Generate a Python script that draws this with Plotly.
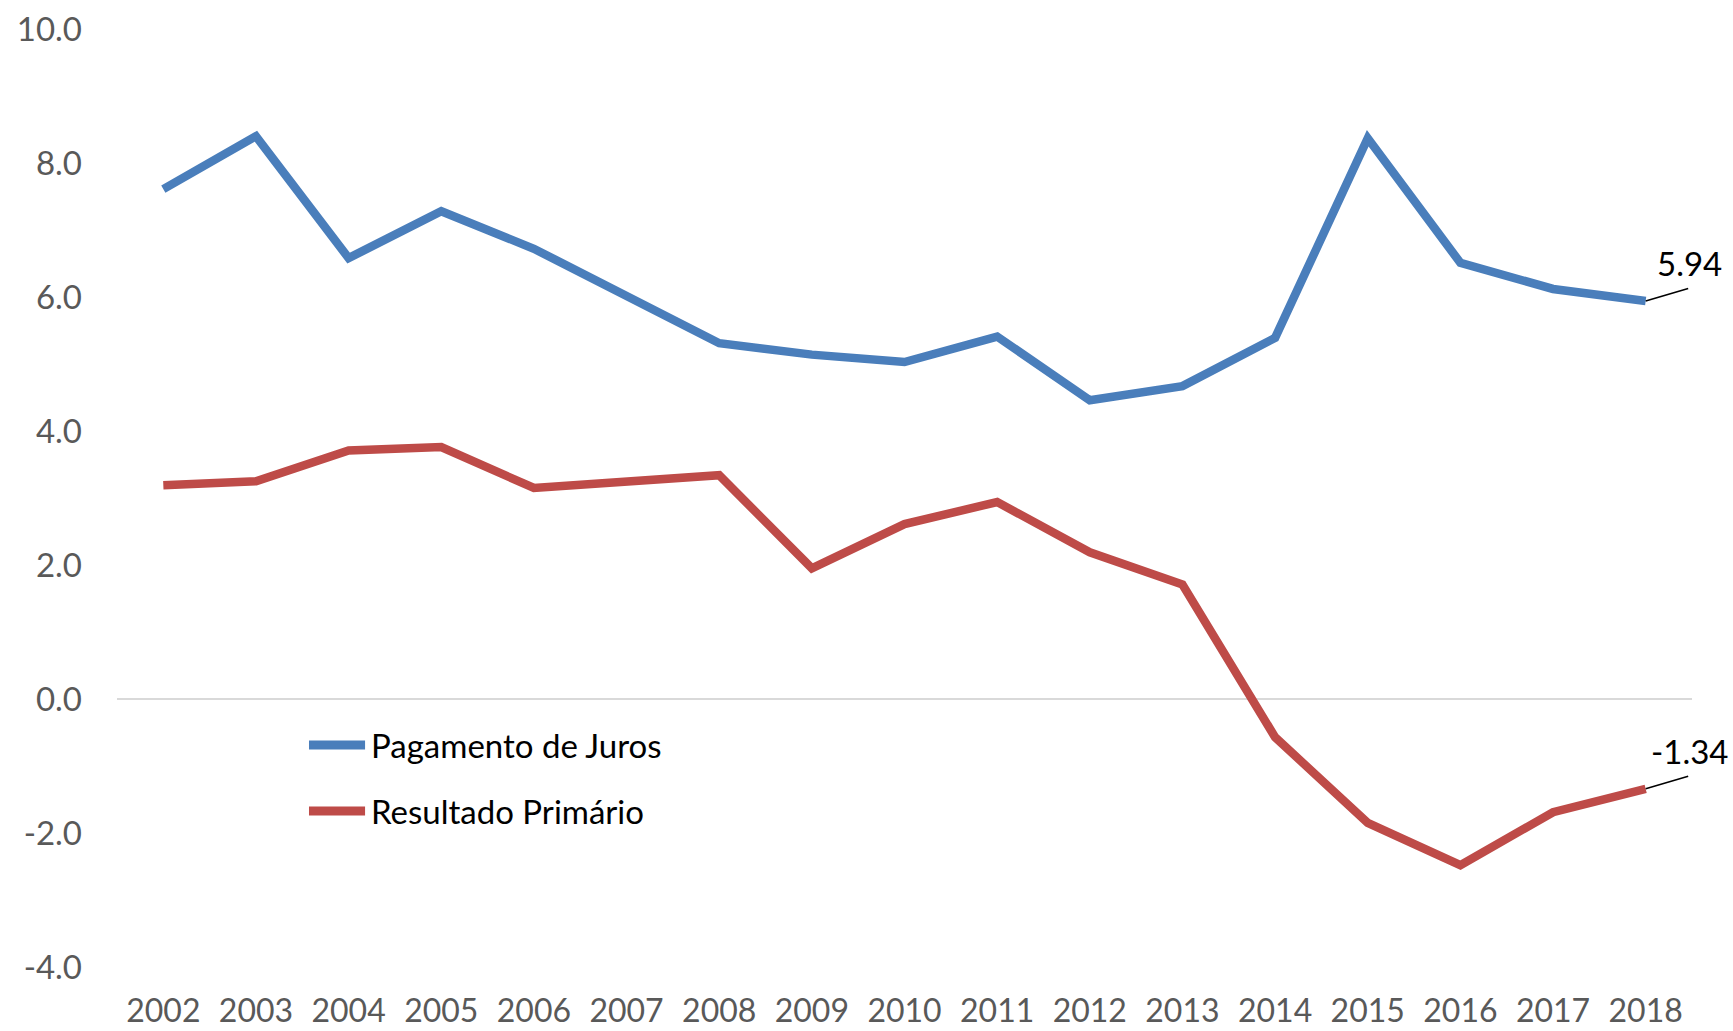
import plotly.graph_objects as go

# Series data (% of GDP)
years = [str(y) for y in range(2002, 2019)]
pagamento_juros = [7.61, 8.40, 6.58, 7.28, 6.72, 6.00, 5.31, 5.14, 5.03, 5.41,
                   4.46, 4.67, 5.39, 8.37, 6.51, 6.12, 5.94]
resultado_primario = [3.19, 3.25, 3.71, 3.76, 3.15, 3.24, 3.34, 1.95, 2.61, 2.94,
                      2.19, 1.71, -0.57, -1.85, -2.48, -1.69, -1.34]
series_names = ["Pagamento de Juros", "Resultado Primário"]

y_tickvals = [-4, -2, 0, 2, 4, 6, 8, 10]
y_ticktext = ["-4.0", "-2.0", "0.0", "2.0", "4.0", "6.0", "8.0", "10.0"]

BLUE = "#4A7EBB"
RED = "#BE4B48"
TICK_GREY = "#595959"
FONT = "Lato, 'Open Sans', sans-serif"

fig = go.Figure()
for name, values, color in zip(series_names,
                               [pagamento_juros, resultado_primario],
                               [BLUE, RED]):
    fig.add_trace(go.Scatter(x=years, y=values, mode="lines", name=name,
                             showlegend=False,
                             line=dict(color=color, width=8.5)))

# Value labels on the last point of each series, with a short leader line
last_idx = len(years) - 1
for values in (pagamento_juros, resultado_primario):
    last_y = values[-1]
    fig.add_annotation(x=last_idx, y=last_y, text=" ", showarrow=True,
                       ax=44, ay=-13, arrowhead=0, arrowwidth=1.5,
                       arrowcolor="black", font=dict(size=1))
    fig.add_annotation(x=last_idx, y=last_y, text=f"{last_y:.2f}",
                       showarrow=False, xshift=44, yshift=38,
                       font=dict(family=FONT, size=33, color="black"))

# Legend drawn inside the plot area (paper coordinates)
legend_rows = [0.2367, 0.1663]
for name, color, ly in zip(series_names, [BLUE, RED], legend_rows):
    fig.add_shape(type="line", xref="paper", yref="paper",
                  x0=0.1219, x1=0.1575, y0=ly, y1=ly,
                  line=dict(color=color, width=9))
    fig.add_annotation(xref="paper", yref="paper", x=0.1600, y=ly,
                       xanchor="left", yanchor="middle", showarrow=False,
                       text=name, font=dict(family=FONT, size=33, color="black"))

fig.update_layout(
    width=1733, height=1031,
    margin=dict(l=117, r=41, t=29, b=64, autoexpand=False),
    paper_bgcolor="white", plot_bgcolor="white",
    font=dict(family=FONT),
    showlegend=False,
    xaxis=dict(type="category", range=[-0.5, 16.5], showgrid=False,
               showline=False, zeroline=False, ticks="", automargin=False,
               ticklabelstandoff=22,
               tickfont=dict(family=FONT, size=32, color=TICK_GREY)),
    yaxis=dict(range=[-4, 10], tickvals=y_tickvals, ticktext=y_ticktext,
               showgrid=False, showline=False, zeroline=True,
               zerolinecolor="#D9D9D9", zerolinewidth=1.5, ticks="",
               automargin=False, ticklabelstandoff=34,
               tickfont=dict(family=FONT, size=33, color=TICK_GREY)),
)

fig.write_html("out.html")
